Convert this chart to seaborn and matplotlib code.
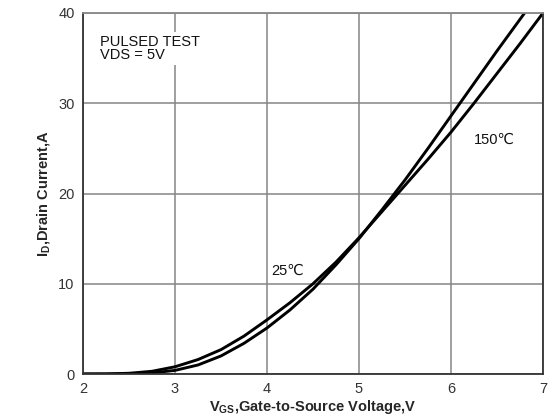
import matplotlib
matplotlib.use("Agg")
import matplotlib.pyplot as plt
import seaborn as sns
import pandas as pd

vgs_150 = [2.0, 2.25, 2.5, 2.75, 3.0, 3.25, 3.5, 3.75, 4.0, 4.25, 4.5, 4.75, 5.0,
           5.25, 5.5, 5.75, 6.0, 6.25, 6.5, 6.75, 7.0]
id_150 = [0.0, 0.01, 0.08, 0.3, 0.8, 1.6, 2.7, 4.2, 6.0, 7.9, 10.0, 12.4, 15.1,
          18.0, 20.9, 23.8, 26.8, 30.0, 33.3, 36.6, 40.0]
vgs_25 = [2.0, 2.25, 2.5, 2.75, 3.0, 3.25, 3.5, 3.75, 4.0, 4.25, 4.5, 4.75, 5.0,
          5.25, 5.5, 5.75, 6.0, 6.25, 6.5, 6.75, 6.85]
id_25 = [0.0, 0.0, 0.02, 0.12, 0.4, 1.0, 2.0, 3.4, 5.1, 7.1, 9.4, 12.1, 15.0,
         18.2, 21.5, 25.0, 28.6, 32.2, 35.8, 39.3, 40.7]
x_ticks = [2, 3, 4, 5, 6, 7]
y_ticks = [0, 10, 20, 30, 40]

sns.set_theme(style="white")
plt.rcParams['font.family'] = ['Liberation Sans', 'DejaVu Sans']

df = pd.concat([
    pd.DataFrame({"vgs": vgs_150, "id": id_150, "T": "150"}),
    pd.DataFrame({"vgs": vgs_25, "id": id_25, "T": "25"}),
])

fig = plt.figure(figsize=(5.48, 4.18), dpi=100)
ax = fig.add_axes([83/548, 44/418, 460/548, 361/418])
ax.grid(True, color="#858585", linewidth=1.1)
ax.set_axisbelow(True)
sns.lineplot(data=df, x="vgs", y="id", hue="T", palette=["black", "black"],
             linewidth=2.1, legend=False, ax=ax, sort=False)
ax.set_xlim(2, 7)
ax.set_ylim(0, 40)
ax.set_xticks(x_ticks)
ax.set_yticks(y_ticks)
ax.tick_params(axis="both", labelsize=10.5, labelcolor="#333333", length=0, pad=6)
for side in ["left", "bottom", "right"]:
    ax.spines[side].set_color("#333333")
    ax.spines[side].set_linewidth(1.3)
ax.spines["top"].set_color("#888888")
ax.spines["top"].set_linewidth(1.3)

ax.set_xlabel(r"V$_{\mathregular{GS}}$,Gate-to-Source Voltage,V", fontsize=10.5,
              fontweight="bold", labelpad=1)
ax.set_ylabel(r"I$_{\mathregular{D}}$,Drain Current,A", fontsize=10.5,
              fontweight="bold", labelpad=4)

ax.text(2.19, 37.6, "PULSED TEST\nVDS = 5V", fontsize=10.5, va="top", ha="left",
        linespacing=0.95, color="#111111",
        bbox=dict(facecolor="white", edgecolor="none", pad=2))
ax.text(6.25, 26.0, "150\u2103", fontsize=10.5, ha="left", va="center", color="#111111")
ax.text(4.05, 11.4, "25\u2103", fontsize=10.5, ha="left", va="center", color="#111111")

fig.savefig("out.png", dpi=100)
